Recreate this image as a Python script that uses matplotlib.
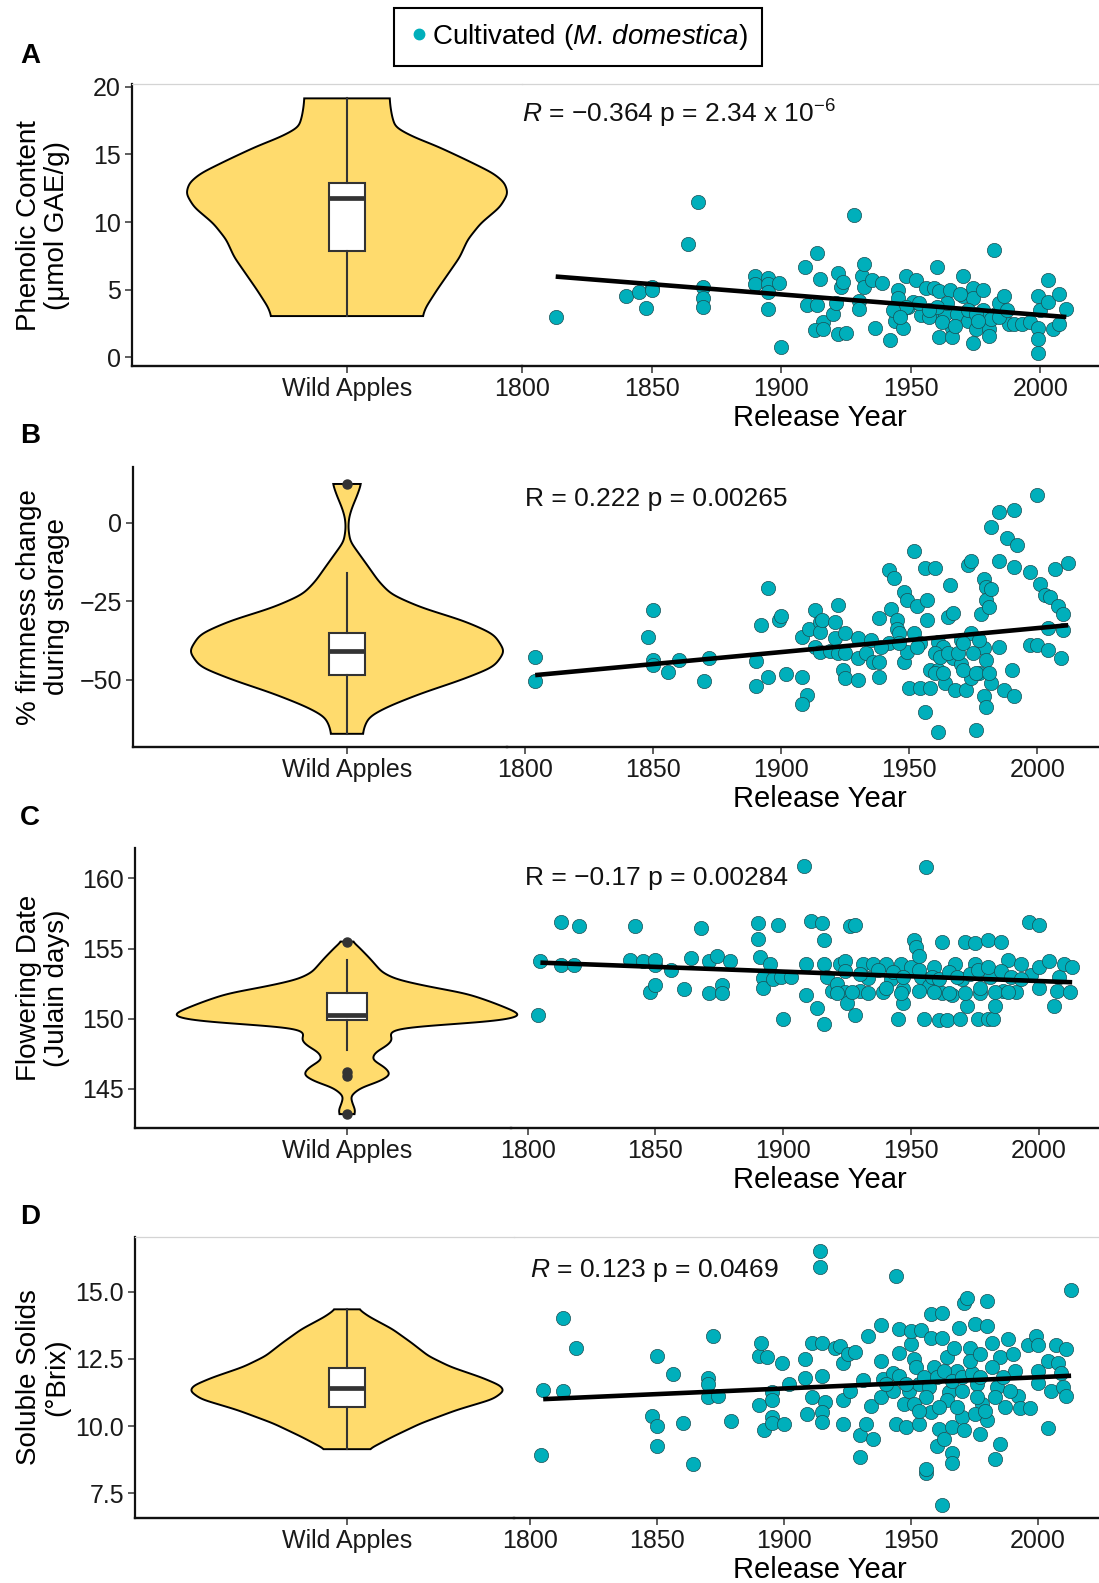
import numpy as np
import matplotlib
matplotlib.use("Agg")
import matplotlib.pyplot as plt
from matplotlib.lines import Line2D

plt.rcParams['font.family'] = ['Liberation Sans', 'DejaVu Sans']
plt.rcParams['mathtext.fontset'] = 'custom'
plt.rcParams['mathtext.rm'] = 'Liberation Sans'
plt.rcParams['mathtext.it'] = 'Liberation Sans:italic'
plt.rcParams['mathtext.bf'] = 'Liberation Sans:bold'

# ---------------- DATA ----------------
wild_label = "Wild Apples"
year_ticks = [1800, 1850, 1900, 1950, 2000]
legend_label = r"Cultivated ($\mathit{M.\,domestica}$)"

# Panel A: phenolic content
a_years = [1813, 1840, 1845, 1848, 1850, 1850, 1864, 1868, 1870, 1870, 1870, 1890, 1890, 1895, 1895,
           1895, 1895, 1899, 1900, 1909, 1910, 1914, 1915, 1914, 1916, 1913, 1916, 1920, 1921, 1922,
           1923, 1924, 1922, 1925, 1928, 1930, 1930, 1931, 1932, 1932, 1935, 1939, 1936, 1942, 1945,
           1945, 1944, 1946, 1947, 1948, 1949, 1951, 1952, 1954, 1956, 1958, 1959, 1960, 1961, 1961,
           1963, 1965, 1966, 1966, 1968, 1970, 1970, 1972, 1974, 1974, 1975, 1974, 1978, 1978, 1980,
           1980, 1982, 1983, 1984, 1986, 1988, 1990, 1993, 1996, 1999, 1999, 1999, 1999, 2000, 2003,
           2003, 2005, 2007, 2007, 2010, 1957, 1948, 1943, 1964, 1972, 1975, 1981, 1984, 1969, 1960,
           1953, 1957, 1962, 1967, 1976, 1987, 1946]
a_vals = [3.0, 4.5, 4.8, 3.65, 5.2, 5.0, 8.4, 11.5, 5.2, 4.35, 3.7, 6.0, 5.4, 5.9, 5.4,
          4.85, 3.6, 5.5, 0.8, 6.7, 3.9, 7.7, 5.8, 3.9, 2.6, 2.0, 2.1, 3.2, 4.0, 6.2,
          5.2, 5.6, 1.7, 1.8, 10.5, 4.2, 3.6, 6.0, 6.9, 5.2, 5.7, 5.5, 2.2, 1.3, 5.0,
          4.35, 2.7, 3.2, 2.2, 6.0, 3.7, 4.1, 5.7, 3.1, 5.1, 3.2, 5.1, 6.65, 4.9, 1.5,
          3.2, 5.0, 2.2, 1.5, 3.2, 6.0, 4.5, 2.7, 5.1, 4.35, 2.1, 1.05, 5.0, 3.5, 2.1,
          1.6, 7.9, 3.2, 4.0, 4.5, 2.5, 2.5, 2.5, 2.6, 4.5, 2.2, 1.35, 0.3, 3.5, 5.7,
          4.1, 2.1, 2.5, 4.7, 3.6, 3.0, 3.7, 3.5, 4.0, 3.5, 3.2, 2.85, 3.0, 4.7, 3.7,
          4.0, 3.5, 2.6, 2.35, 2.7, 3.5, 3.0]
a_fit_years = [1813, 2010]
a_fit_vals = [5.97, 2.98]
a_box = dict(whislo=3.05, q1=7.86, med=11.75, q3=12.9, whishi=19.14, fliers=[])
a_prof_vals = [19.14, 18.5, 17.8, 17.0, 16.3, 15.6, 14.6, 13.6, 12.9, 12.1, 11.1, 9.9, 8.7, 7.4,
               6.2, 5.0, 3.7, 3.05]
a_prof_w = [0.265, 0.27, 0.28, 0.30, 0.41, 0.56, 0.74, 0.91, 0.98, 1.0, 0.95, 0.83, 0.75, 0.70,
            0.63, 0.56, 0.49, 0.47]
a_ylabel = "Phenolic Content\n(\u03bcmol GAE/g)"
a_yticks = [0, 5, 10, 15, 20]
a_stat = r"$\mathit{R}$ = " + "\u2212" + r"0.364 p = 2.34 x 10$^{\mathregular{-6}}$"

# Panel B: firmness change
b_years = [1804, 1804, 1848, 1850, 1850, 1850, 1856, 1860, 1870, 1872, 1890, 1890, 1892, 1895, 1895,
           1899, 1900, 1902, 1908, 1908, 1910, 1908, 1911, 1913, 1915, 1915, 1916, 1913, 1915, 1919,
           1921, 1921, 1922, 1925, 1922, 1925, 1924, 1925, 1930, 1930, 1930, 1933, 1935, 1936, 1938,
           1938, 1938, 1942, 1944, 1943, 1942, 1945, 1945, 1946, 1948, 1949, 1948, 1949, 1950, 1952,
           1952, 1953, 1954, 1956, 1956, 1957, 1957, 1958, 1958, 1960, 1961, 1961, 1961, 1963, 1964,
           1965, 1966, 1967, 1967, 1968, 1970, 1970, 1972, 1973, 1974, 1974, 1974, 1976, 1977, 1978,
           1979, 1980, 1980, 1981, 1982, 1979, 1980, 1979, 1980, 1982, 1982, 1985, 1985, 1985, 1987,
           1988, 1991, 1991, 1991, 1992, 1990, 1997, 1997, 2000, 2000, 2001, 2003, 2004, 2004, 2005,
           2007, 2008, 2009, 2010, 2010, 2012, 1960, 1962, 1965, 1969, 1971, 1975, 1977, 1954, 1953,
           1960, 1963, 1971, 1976, 1981, 1939, 1946]
b_vals = [-42.8, -50.4, -36.6, -27.7, -43.8, -45.4, -47.7, -43.8, -50.4, -43.3, -52.1, -44.0, -32.7, -20.8, -49.3,
          -30.9, -29.8, -48.4, -36.4, -49.1, -54.9, -57.9, -33.8, -27.7, -31.6, -34.8, -31.1, -39.6, -41.2, -40.8,
          -31.6, -36.9, -26.3, -35.3, -41.7, -41.7, -47.0, -49.6, -36.9, -43.3, -50.2, -41.7, -37.5, -44.3, -30.4,
          -44.3, -49.1, -15.2, -17.6, -27.4, -38.3, -31.1, -33.8, -35.3, -22.1, -24.8, -44.3, -41.2, -52.8, -8.9,
          -35.3, -26.7, -52.8, -14.5, -60.2, -24.6, -31.1, -47.0, -52.8, -14.5, -38.0, -66.6, -47.0, -39.6, -51.0,
          -30.0, -19.8, -28.7, -43.3, -53.3, -37.5, -44.9, -53.3, -13.4, -12.3, -35.3, -49.6, -66.0, -47.8, -29.0,
          -17.9, -20.5, -24.8, -26.9, -21.1, -40.1, -43.8, -55.4, -58.6, -51.2, -1.3, 3.5, -12.1, -39.6, -53.3,
          -4.9, 4.0, -55.4, -14.2, -7.1, -47.0, -39.0, -15.6, -39.0, 8.8, -19.5, -23.2, -33.5, -40.6, -23.7,
          -14.7, -26.6, -43.3, -29.0, -34.3, -12.9, -41.7, -42.8, -41.7, -41.7, -38.5, -41.7, -37.5, -38.5, -39.6,
          -48.0, -48.0, -47.0, -48.0, -48.0, -39.6, -38.5]
b_fit_years = [1804, 2012]
b_fit_vals = [-48.6, -32.7]
b_box = dict(whislo=-67.3, q1=-48.6, med=-40.8, q3=-35.1, whishi=-16.1, fliers=[12.3])
b_prof_vals = [12.3, 8.7, 4.5, 1.4, -1.8, -6.0, -10.2, -14.4, -18.7, -22.9, -27.1, -31.3, -35.5, -41.0,
               -46.0, -50.2, -54.4, -58.6, -61.8, -65.0, -67.3]
b_prof_w = [0.09, 0.065, 0.03, 0.012, 0.008, 0.02, 0.08, 0.14, 0.20, 0.28, 0.47, 0.74, 0.93, 1.0,
            0.93, 0.72, 0.47, 0.26, 0.14, 0.11, 0.10]
b_ylabel = "% firmness change\nduring storage"
b_yticks = [-50, -25, 0]
b_stat = "R = 0.222 p = 0.00265"

# Panel C: flowering date
c_years = [1804, 1805, 1813, 1813, 1818, 1820, 1840, 1842, 1845, 1848, 1850, 1850, 1850, 1856, 1861,
           1864, 1868, 1871, 1871, 1874, 1876, 1876, 1879, 1890, 1890, 1891, 1892, 1892, 1895, 1896,
           1898, 1899, 1900, 1903, 1908, 1909, 1909, 1911, 1913, 1915, 1916, 1916, 1916, 1917, 1919,
           1921, 1922, 1924, 1924, 1925, 1926, 1928, 1928, 1930, 1931, 1933, 1935, 1939, 1940, 1942,
           1945, 1946, 1947, 1947, 1950, 1951, 1952, 1953, 1954, 1955, 1956, 1957, 1959, 1961, 1962,
           1962, 1964, 1966, 1967, 1969, 1970, 1971, 1972, 1975, 1975, 1976, 1977, 1980, 1980, 1981,
           1982, 1983, 1985, 1986, 1988, 1991, 1993, 1996, 1997, 2000, 2000, 2000, 2004, 2006, 2007,
           2008, 2010, 2012, 2013, 1924, 1930, 1937, 1943, 1947, 1953, 1958, 1961, 1965, 1968, 1973,
           1976, 1980, 1985, 1989, 1993, 1921, 1927, 1933, 1940, 1946, 1953, 1959, 1965, 1971, 1977,
           1983, 1988]
c_vals = [150.3, 154.1, 156.9, 153.8, 153.8, 156.6, 154.2, 156.6, 154.1, 151.9, 152.4, 153.8, 154.2, 153.5, 152.1,
          154.3, 156.5, 151.8, 154.1, 154.5, 152.4, 151.8, 154.1, 156.8, 155.7, 154.4, 152.9, 152.2, 153.9, 152.8,
          156.7, 153.0, 150.0, 153.0, 160.9, 153.9, 151.7, 157.0, 150.8, 156.8, 155.6, 153.9, 149.6, 153.0, 152.0,
          152.5, 153.9, 151.9, 154.1, 151.1, 156.6, 156.7, 150.3, 152.0, 153.9, 152.9, 153.9, 151.9, 153.9, 152.8,
          150.0, 153.9, 151.1, 152.1, 153.7, 155.6, 155.1, 154.5, 153.0, 150.0, 160.8, 152.3, 153.7, 149.9, 155.5,
          151.8, 149.9, 151.7, 153.9, 150.0, 152.8, 155.5, 150.9, 153.9, 155.4, 150.0, 151.8, 150.0, 155.6, 153.0,
          150.0, 150.9, 155.5, 152.0, 154.2, 151.9, 153.9, 156.9, 153.1, 156.7, 153.7, 152.2, 154.1, 150.9, 152.0,
          153.0, 153.9, 151.9, 153.7, 153.4, 153.2, 153.5, 153.3, 153.0, 153.5, 153.0, 152.8, 153.3, 153.0, 153.2,
          153.5, 153.7, 153.4, 153.0, 152.8, 151.8, 151.9, 151.8, 152.2, 151.8, 152.0, 151.9, 151.8, 151.8, 152.2,
          151.9, 151.9]
c_fit_years = [1805, 2013]
c_fit_vals = [154.0, 152.6]
c_box = dict(whislo=147.8, q1=149.9, med=150.3, q3=151.8, whishi=154.2, fliers=[155.5, 146.2, 145.9, 143.2])
c_prof_vals = [155.5, 155.2, 154.3, 153.3, 152.8, 152.3, 151.8, 151.2, 150.6, 150.2, 149.8, 149.4, 149.0,
               148.5, 148.1, 147.6, 147.1, 146.5, 146.0, 145.5, 145.1, 144.5, 144.0, 143.4, 143.2]
c_prof_w = [0.03, 0.06, 0.13, 0.20, 0.28, 0.46, 0.68, 0.82, 0.94, 1.0, 0.86, 0.30, 0.24,
            0.26, 0.23, 0.16, 0.14, 0.22, 0.25, 0.18, 0.08, 0.02, 0.03, 0.05, 0.04]
c_ylabel = "Flowering Date\n(Julain days)"
c_yticks = [145, 150, 155, 160]
c_stat = "R = \u22120.17 p = 0.00284"

# Panel D: soluble solids
d_years = [1804, 1805, 1813, 1813, 1818, 1848, 1850, 1850, 1850, 1856, 1860, 1864, 1870, 1870, 1870,
           1872, 1874, 1879, 1890, 1890, 1891, 1892, 1893, 1895, 1895, 1895, 1895, 1899, 1900, 1902,
           1908, 1908, 1909, 1911, 1911, 1914, 1914, 1915, 1915, 1916, 1915, 1915, 1920, 1922, 1923,
           1923, 1923, 1925, 1926, 1928, 1930, 1930, 1931, 1932, 1933, 1934, 1935, 1938, 1938, 1938,
           1939, 1943, 1944, 1944, 1945, 1945, 1945, 1947, 1948, 1949, 1950, 1950, 1951, 1953, 1953,
           1954, 1956, 1956, 1958, 1958, 1958, 1959, 1960, 1961, 1962, 1962, 1962, 1963, 1964, 1965,
           1966, 1966, 1966, 1968, 1969, 1970, 1971, 1971, 1972, 1973, 1975, 1976, 1977, 1978, 1980,
           1980, 1980, 1982, 1983, 1985, 1985, 1987, 1988, 1990, 1991, 1992, 1993, 1996, 1997, 1999,
           2000, 2000, 2000, 2004, 2004, 2005, 2007, 2008, 2009, 2010, 2011, 2011, 2013, 1952, 1955,
           1957, 1960, 1963, 1966, 1970, 1974, 1977, 1982, 1984, 1986, 1967, 1973, 1977, 1970, 1964,
           1956, 1948, 1943, 1940, 1976, 1983, 1989, 1951, 1953, 1961, 1968, 1975, 1979]
d_vals = [8.92, 11.34, 14.03, 11.32, 12.92, 10.39, 12.6, 10.0, 9.25, 11.93, 10.1, 8.6, 11.77, 11.56, 11.07,
          13.35, 11.1, 10.2, 10.8, 12.6, 13.1, 9.84, 12.55, 11.26, 10.95, 10.33, 10.1, 12.33, 10.06, 11.56,
          12.5, 11.8, 10.45, 13.1, 11.07, 16.5, 15.9, 13.07, 11.87, 10.9, 10.52, 10.15, 12.92, 12.98, 12.36,
          10.95, 10.09, 12.67, 11.32, 12.76, 9.68, 8.86, 11.7, 10.09, 13.35, 10.76, 9.53, 13.74, 11.07, 12.43,
          11.75, 11.96, 15.57, 10.09, 13.6, 12.73, 11.87, 10.82, 9.96, 11.32, 13.04, 13.53, 12.49, 11.56, 10.09,
          13.56, 8.24, 8.42, 13.29, 10.52, 14.17, 12.18, 9.25, 9.9, 7.07, 14.21, 13.29, 9.5, 12.55, 11.26,
          8.98, 8.61, 9.96, 12.06, 13.66, 10.33, 9.84, 14.58, 14.77, 12.92, 13.78, 11.56, 9.72, 10.82, 14.64,
          13.72, 10.21, 13.1, 8.79, 9.35, 12.55, 10.72, 13.22, 12.67, 12.06, 11.13, 10.68, 13.02, 10.68, 13.35,
          13.02, 11.59, 12.06, 12.43, 9.94, 11.32, 13.02, 12.36, 11.99, 11.44, 11.1, 12.86, 15.04, 12.18, 11.81,
          11.44, 11.81, 12.06, 11.69, 11.81, 11.99, 11.81, 12.18, 11.44, 11.81, 12.92, 12.43, 12.67, 11.32, 10.95,
          11.07, 11.56, 11.32, 11.56, 11.07, 11.07, 11.32, 10.82, 10.57, 10.7, 10.7, 10.45, 10.57]
d_fit_years = [1805, 2013]
d_fit_vals = [11.0, 11.87]
d_box = dict(whislo=9.14, q1=10.69, med=11.41, q3=12.17, whishi=14.34, fliers=[])
d_prof_vals = [14.34, 14.07, 13.6, 13.1, 12.6, 12.2, 11.8, 11.5, 11.3, 11.0, 10.6, 10.1, 9.6, 9.14]
d_prof_w = [0.075, 0.14, 0.29, 0.41, 0.52, 0.66, 0.86, 0.98, 1.0, 0.93, 0.70, 0.47, 0.29, 0.14]
d_ylabel = "Soluble Solids\n(\u00b0Brix)"
d_yticks = [7.5, 10.0, 12.5, 15.0]
d_stat = r"$\mathit{R}$ = 0.123 p = 0.0469"

# ---------------- STYLE / LAYOUT ----------------
W, H = 1099, 1583
TEAL = "#00AFBB"
VIOLIN = "#FFDB6D"
BOXEDGE = "#333333"
FS_TICK = 18
FS_XLAB = 21
FS_YLAB = 20
FS_ANN = 19

panels = [
    dict(letter="A", letter_y=56, years=a_years, vals=a_vals, fit_x=a_fit_years, fit_y=a_fit_vals,
         box=a_box, pv=a_prof_vals, pw=a_prof_w, ylabel=a_ylabel, yticks=a_yticks, stat=a_stat,
         spine=132, sleft=522, top=84.3, bottom=366, xlim=(1802, 2022.6), ylim=(-0.64, 20.18),
         vhalf=161, bhalf=18, stat_xy=(1800, 18.0), topline=True),
    dict(letter="B", letter_y=436, years=b_years, vals=b_vals, fit_x=b_fit_years, fit_y=b_fit_vals,
         box=b_box, pv=b_prof_vals, pw=b_prof_w, ylabel=b_ylabel, yticks=b_yticks, stat=b_stat,
         spine=133, sleft=507, top=466.7, bottom=747, xlim=(1793, 2024), ylim=(-71.5, 17.8),
         vhalf=158, bhalf=18, stat_xy=(1800, 7.6), topline=False),
    dict(letter="C", letter_y=818, years=c_years, vals=c_vals, fit_x=c_fit_years, fit_y=c_fit_vals,
         box=c_box, pv=c_prof_vals, pw=c_prof_w, ylabel=c_ylabel, yticks=c_yticks, stat=c_stat,
         spine=135, sleft=511, top=848.3, bottom=1128.3, xlim=(1793.5, 2023.5), ylim=(142.19, 162.15),
         vhalf=176, bhalf=20, stat_xy=(1799, 160.0), topline=False),
    dict(letter="D", letter_y=1217, years=d_years, vals=d_vals, fit_x=d_fit_years, fit_y=d_fit_vals,
         box=d_box, pv=d_prof_vals, pw=d_prof_w, ylabel=d_ylabel, yticks=d_yticks, stat=d_stat,
         spine=135, sleft=514, top=1236.7, bottom=1518.3, xlim=(1793.5, 2024), ylim=(6.57, 17.04),
         vhalf=157, bhalf=18, stat_xy=(1800, 15.8), topline=True),
]
VCENTER = 347
YLAB_RIGHT = 70
XLAB_CENTER = 820
XLAB_TOP_PX = 38   # distance below the axis line


def smooth_profile(vals, widths, n=300, frac=0.015):
    v = np.asarray(vals, float)
    w = np.asarray(widths, float)
    order = np.argsort(v)
    v, w = v[order], w[order]
    grid = np.linspace(v[0], v[-1], n)
    wi = np.interp(grid, v, w)
    sig = frac * n
    k = np.arange(-int(4 * sig), int(4 * sig) + 1)
    ker = np.exp(-0.5 * (k / sig) ** 2)
    ker /= ker.sum()
    pad = len(k) // 2
    wp = np.pad(wi, pad, mode='edge')
    ws = np.convolve(wp, ker, mode='valid')
    return grid, ws


fig = plt.figure(figsize=(W / 100, H / 100), dpi=100)


def axes_px(x0, y0, x1, y1):
    return fig.add_axes([x0 / W, 1 - y1 / H, (x1 - x0) / W, (y1 - y0) / H])


for p in panels:
    ax_v = axes_px(p["spine"], p["top"], p["sleft"], p["bottom"])
    ax_s = axes_px(p["sleft"], p["top"], W, p["bottom"])
    for ax in (ax_v, ax_s):
        ax.set_facecolor("none")
        ax.set_ylim(*p["ylim"])
        ax.spines["right"].set_visible(False)
        ax.spines["bottom"].set_linewidth(1.7)
        ax.spines["bottom"].set_color("#111111")
        if p["topline"]:
            ax.spines["top"].set_color("#d4d4d4")
            ax.spines["top"].set_linewidth(0.9)
        else:
            ax.spines["top"].set_visible(False)
        ax.tick_params(axis="both", length=5, width=1.1, color="#333333",
                       labelsize=FS_TICK, labelcolor="#1a1a1a", pad=3)
    ax_s.spines["left"].set_visible(False)
    ax_v.spines["left"].set_linewidth(1.6)
    ax_v.spines["left"].set_color("#111111")

    # violin
    ax_v.set_xlim(p["spine"] - VCENTER, p["sleft"] - VCENTER)
    g, ws = smooth_profile(p["pv"], p["pw"])
    hw = ws * p["vhalf"]
    xs = np.concatenate([-hw, hw[::-1]])
    ys = np.concatenate([g, g[::-1]])
    ax_v.fill(xs, ys, facecolor=VIOLIN, edgecolor="black", lw=1.4, zorder=2, clip_on=False)
    ax_v.bxp([dict(p["box"])], positions=[0], widths=[2 * p["bhalf"]], patch_artist=True,
             showcaps=False, manage_ticks=False, zorder=3,
             boxprops=dict(facecolor="white", edgecolor=BOXEDGE, lw=1.5),
             medianprops=dict(color=BOXEDGE, lw=3.4, solid_capstyle="butt"),
             whiskerprops=dict(color=BOXEDGE, lw=1.5),
             flierprops=dict(marker="o", mfc=BOXEDGE, mec=BOXEDGE, ms=6.5))
    ax_v.set_xticks([0])
    ax_v.set_xticklabels([wild_label])
    ax_v.set_yticks(p["yticks"])
    ax_v.set_ylabel(p["ylabel"], fontsize=FS_YLAB, linespacing=1.1)
    ax_v.yaxis.set_label_coords((YLAB_RIGHT - p["spine"]) / (p["sleft"] - p["spine"]), 0.5)

    # scatter
    ax_s.set_xlim(*p["xlim"])
    ax_s.scatter(p["years"], p["vals"], s=105, c=TEAL, edgecolors="#1b4d52",
                 linewidths=0.5, zorder=2)
    ax_s.plot(p["fit_x"], p["fit_y"], color="black", lw=3.3, zorder=3, solid_capstyle="butt")
    ax_s.set_yticks([])
    ax_s.set_xticks(year_ticks)
    ax_s.set_xlabel("Release Year", fontsize=FS_XLAB)
    ax_s.xaxis.set_label_coords((XLAB_CENTER - p["sleft"]) / (W - p["sleft"]),
                                -XLAB_TOP_PX / (p["bottom"] - p["top"]))
    ax_s.text(p["stat_xy"][0], p["stat_xy"][1], p["stat"], fontsize=FS_ANN,
              ha="left", va="center", color="#111111", zorder=4)

    fig.text(30 / W, 1 - p["letter_y"] / H, p["letter"], fontsize=20, fontweight="bold",
             ha="center", va="center")

handle = Line2D([], [], marker="o", ls="", color=TEAL, ms=7.5)
leg = fig.legend([handle], [legend_label], loc="center",
                 bbox_to_anchor=(578 / W, 1 - 37 / H), fontsize=20, frameon=True,
                 fancybox=False, framealpha=1, edgecolor="black", handletextpad=0.05,
                 handlelength=0.8, borderpad=0.5, borderaxespad=0)
leg.get_frame().set_linewidth(1.5)

fig.savefig("out.png", dpi=100)
